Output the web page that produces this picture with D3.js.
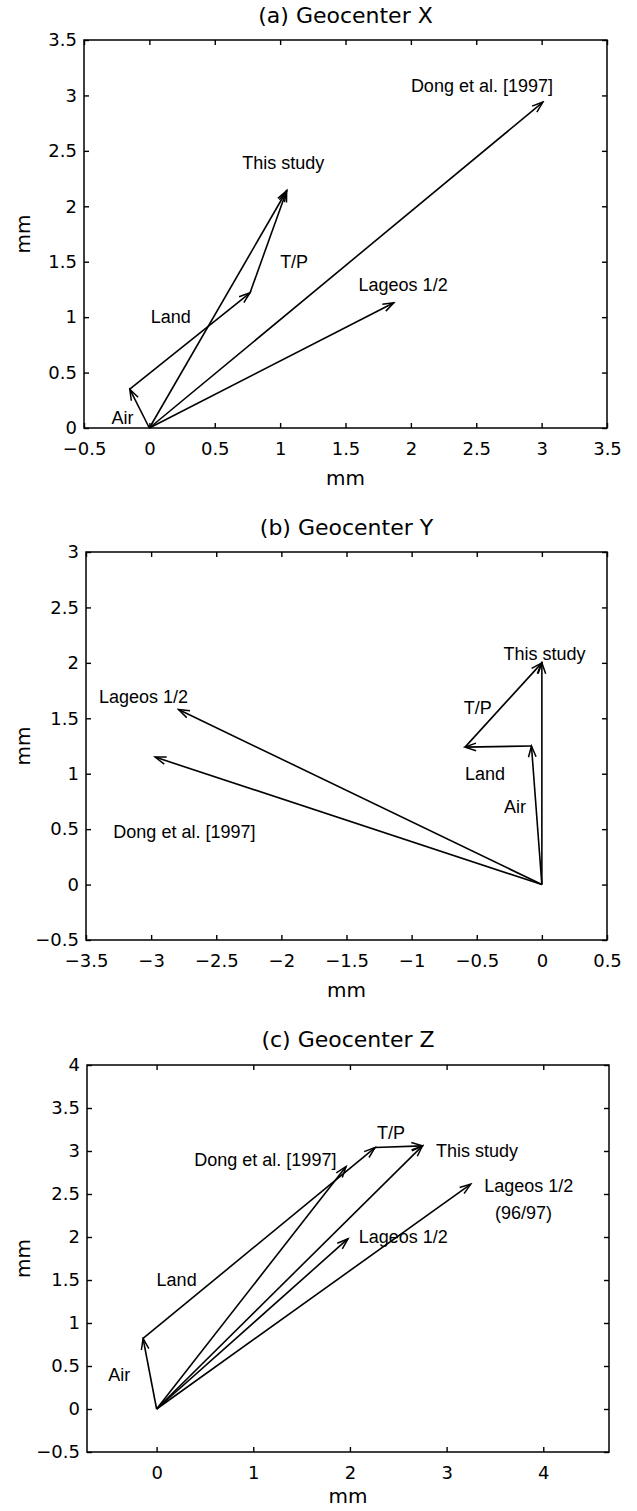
<!DOCTYPE html>
<html>
<head>
<meta charset="utf-8">
<script src="https://cdn.jsdelivr.net/npm/d3@7"></script>
<style>
  body { margin: 0; background: #fff; }
  svg { display: block; }
  .tick text { font-family: "DejaVu Sans", sans-serif; font-size: 18px; fill: #000; }
  .tick line { stroke: #000; stroke-width: 1.4; }
</style>
</head>
<body>
<svg id="chart" width="637" height="1511"></svg>
<script>
// ---- (a) Geocenter X ----
const xTicksA = [-0.5, 0, 0.5, 1, 1.5, 2, 2.5, 3, 3.5];
const yTicksA = [0, 0.5, 1, 1.5, 2, 2.5, 3, 3.5];
const arrowsA = [
  { name: "Air", from: [0, 0], to: [-0.15, 0.35] },
  { name: "Land", from: [-0.15, 0.35], to: [0.77, 1.22] },
  { name: "T/P", from: [0.77, 1.22], to: [1.05, 2.14] },
  { name: "This study", from: [0, 0], to: [1.05, 2.14] },
  { name: "Lageos 1/2", from: [0, 0], to: [1.87, 1.13] },
  { name: "Dong et al. [1997]", from: [0, 0], to: [3.01, 2.94] }
];
const labelsA = [
  { text: "Dong et al. [1997]", x: 2.0, y: 3.03 },
  { text: "This study", x: 0.71, y: 2.34 },
  { text: "T/P", x: 1.0, y: 1.44 },
  { text: "Lageos 1/2", x: 1.6, y: 1.24 },
  { text: "Land", x: 0.01, y: 0.945 },
  { text: "Air", x: -0.29, y: 0.04 }
];

// ---- (b) Geocenter Y ----
const xTicksB = [-3.5, -3, -2.5, -2, -1.5, -1, -0.5, 0, 0.5];
const yTicksB = [-0.5, 0, 0.5, 1, 1.5, 2, 2.5, 3];
const arrowsB = [
  { name: "Air", from: [0, 0], to: [-0.08, 1.25] },
  { name: "Land", from: [-0.08, 1.25], to: [-0.59, 1.24] },
  { name: "T/P", from: [-0.59, 1.24], to: [0, 2.0] },
  { name: "This study", from: [0, 0], to: [0, 2.0] },
  { name: "Lageos 1/2", from: [0, 0], to: [-2.79, 1.58] },
  { name: "Dong et al. [1997]", from: [0, 0], to: [-2.97, 1.15] }
];
const labelsB = [
  { text: "This study", x: -0.295, y: 2.03 },
  { text: "T/P", x: -0.6, y: 1.54 },
  { text: "Land", x: -0.59, y: 0.944 },
  { text: "Air", x: -0.29, y: 0.646 },
  { text: "Lageos 1/2", x: -3.4, y: 1.64 },
  { text: "Dong et al. [1997]", x: -3.29, y: 0.42 }
];

// ---- (c) Geocenter Z ----
const xTicksC = [0, 1, 2, 3, 4];
const yTicksC = [-0.5, 0, 0.5, 1, 1.5, 2, 2.5, 3, 3.5, 4];
const arrowsC = [
  { name: "Air", from: [0, 0], to: [-0.14, 0.82] },
  { name: "Land", from: [-0.14, 0.82], to: [2.26, 3.04] },
  { name: "T/P", from: [2.26, 3.04], to: [2.75, 3.06] },
  { name: "This study", from: [0, 0], to: [2.75, 3.06] },
  { name: "Dong et al. [1997]", from: [0, 0], to: [1.96, 2.82] },
  { name: "Lageos 1/2", from: [0, 0], to: [1.98, 1.98] },
  { name: "Lageos 1/2 (96/97)", from: [0, 0], to: [3.25, 2.615] }
];
const labelsC = [
  { text: "T/P", x: 2.28, y: 3.14 },
  { text: "This study", x: 2.89, y: 2.93 },
  { text: "Dong et al. [1997]", x: 0.39, y: 2.825 },
  { text: "Lageos 1/2", x: 3.39, y: 2.52 },
  { text: "(96/97)", x: 3.5, y: 2.21 },
  { text: "Lageos 1/2", x: 2.09, y: 1.93 },
  { text: "Land", x: 0.0, y: 1.43 },
  { text: "Air", x: -0.5, y: 0.32 }
];

const panels = [
  { title: "(a) Geocenter X", xDomain: [-0.5, 3.5], yDomain: [0, 3.5],
    xTicks: xTicksA, yTicks: yTicksA, arrows: arrowsA, labels: labelsA,
    left: 84, right: 607, top: 40, bottom: 428, titleY: 23, xLabelY: 485 },
  { title: "(b) Geocenter Y", xDomain: [-3.5, 0.5], yDomain: [-0.5, 3],
    xTicks: xTicksB, yTicks: yTicksB, arrows: arrowsB, labels: labelsB,
    left: 86, right: 607, top: 552, bottom: 940, titleY: 535, xLabelY: 997 },
  { title: "(c) Geocenter Z", xDomain: [-0.72, 4.68], yDomain: [-0.5, 4],
    xTicks: xTicksC, yTicks: yTicksC, arrows: arrowsC, labels: labelsC,
    left: 87, right: 609, top: 1065, bottom: 1452, titleY: 1047, xLabelY: 1503 }
];

const svg = d3.select("#chart");
svg.append("rect").attr("width", 637).attr("height", 1511).attr("fill", "#fff");

svg.append("defs").append("marker")
  .attr("id", "head")
  .attr("viewBox", "-13 -6 15 12")
  .attr("refX", 0).attr("refY", 0)
  .attr("markerWidth", 15).attr("markerHeight", 12)
  .attr("markerUnits", "userSpaceOnUse")
  .attr("orient", "auto")
  .append("path")
  .attr("d", "M-11,-3.8L0,0L-11,3.8")
  .attr("fill", "none")
  .attr("stroke", "#000")
  .attr("stroke-width", 1.5);

const fmt = d3.format("~g");

panels.forEach(p => {
  const x = d3.scaleLinear().domain(p.xDomain).range([p.left, p.right]);
  const y = d3.scaleLinear().domain(p.yDomain).range([p.bottom, p.top]);
  const g = svg.append("g");

  // axes, ticks pointing inward on all four sides
  g.append("g").attr("transform", `translate(0,${p.bottom})`)
    .call(d3.axisBottom(x).tickValues(p.xTicks).tickFormat(fmt).tickSize(-5).tickPadding(14))
    .call(a => a.select(".domain").remove());
  g.append("g").attr("transform", `translate(${p.left},0)`)
    .call(d3.axisLeft(y).tickValues(p.yTicks).tickFormat(fmt).tickSize(-5).tickPadding(7))
    .call(a => a.select(".domain").remove());
  g.append("g").attr("transform", `translate(0,${p.top})`)
    .call(d3.axisTop(x).tickValues(p.xTicks).tickFormat("").tickSize(-5))
    .call(a => a.select(".domain").remove());
  g.append("g").attr("transform", `translate(${p.right},0)`)
    .call(d3.axisRight(y).tickValues(p.yTicks).tickFormat("").tickSize(-5))
    .call(a => a.select(".domain").remove());

  g.append("rect")
    .attr("x", p.left).attr("y", p.top)
    .attr("width", p.right - p.left).attr("height", p.bottom - p.top)
    .attr("fill", "none").attr("stroke", "#000").attr("stroke-width", 1.5);

  // vectors
  g.append("g").selectAll("line")
    .data(p.arrows)
    .join("line")
    .attr("x1", d => x(d.from[0])).attr("y1", d => y(d.from[1]))
    .attr("x2", d => x(d.to[0])).attr("y2", d => y(d.to[1]))
    .attr("stroke", "#000").attr("stroke-width", 1.6)
    .attr("marker-end", "url(#head)");

  // annotations
  g.append("g").selectAll("text")
    .data(p.labels)
    .join("text")
    .attr("x", d => x(d.x)).attr("y", d => y(d.y))
    .style("font-family", "'Liberation Sans', Arial, sans-serif")
    .style("font-size", "18px")
    .text(d => d.text);

  // titles and axis labels
  g.append("text")
    .attr("x", (p.left + p.right) / 2).attr("y", p.titleY)
    .attr("text-anchor", "middle")
    .style("font-family", "'DejaVu Sans', sans-serif").style("font-size", "22px")
    .text(p.title);
  g.append("text")
    .attr("x", (p.left + p.right) / 2).attr("y", p.xLabelY)
    .attr("text-anchor", "middle")
    .style("font-family", "'DejaVu Sans', sans-serif").style("font-size", "20px")
    .text("mm");
  g.append("text")
    .attr("transform", `translate(30,${(p.top + p.bottom) / 2}) rotate(-90)`)
    .attr("text-anchor", "middle")
    .style("font-family", "'DejaVu Sans', sans-serif").style("font-size", "20px")
    .text("mm");
});
</script>
</body>
</html>
